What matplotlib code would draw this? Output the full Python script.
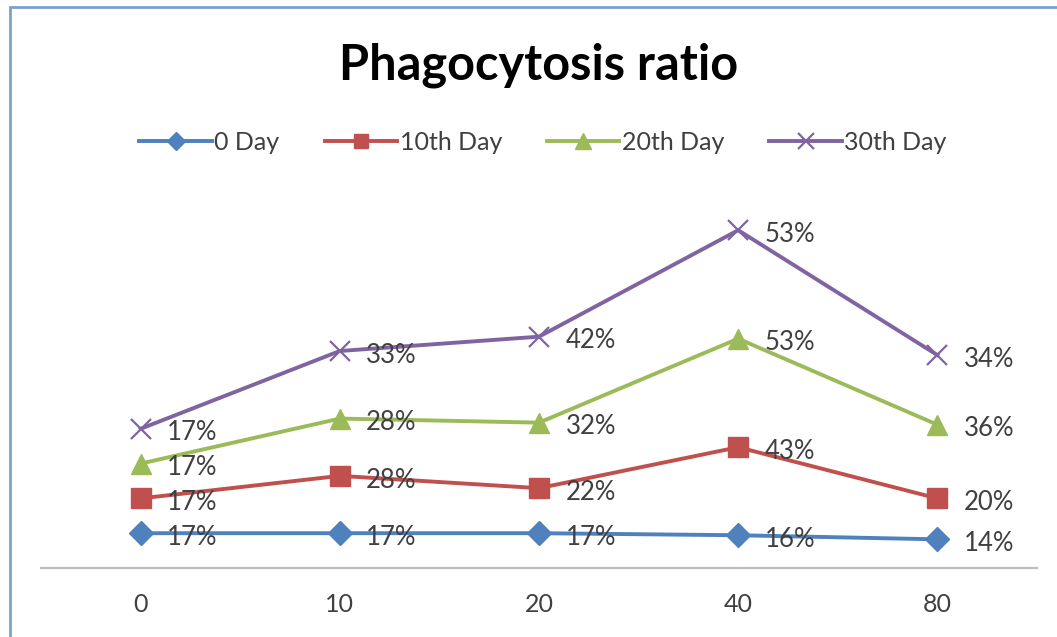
import matplotlib.pyplot as plt
import numpy as np
from matplotlib.patches import Rectangle

plt.rcParams['font.family'] = ['Lato', 'DejaVu Sans']

# categories (x axis) and the four series (stacked line chart, labels show own values)
days = ['0', '10', '20', '40', '80']
series_names = ['0 Day', '10th Day', '20th Day', '30th Day']
day0 = [17, 17, 17, 16, 14]
day10 = [17, 28, 22, 43, 20]
day20 = [17, 28, 32, 53, 36]
day30 = [17, 33, 42, 53, 34]

colors = ['#4F81BD', '#C0504D', '#9BBB59', '#8064A2']
markers = ['D', 's', '^', 'x']
msizes = [12, 14, 15, 15]

W, H = 1057, 637
fig = plt.figure(figsize=(W / 100, H / 100), dpi=100)

# chart frame
fig.patches.append(Rectangle((10 / W, -0.05), 1.1, 1 - 7 / H + 0.05,
                             transform=fig.transFigure, fill=False,
                             edgecolor='#7BA0CD', lw=2))

ax = fig.add_axes([41 / W, 1 - 568 / H, (1037 - 41) / W, (568 - 199.5) / H])
x = np.arange(len(days))
values = [day0, day10, day20, day30]
stacked = np.cumsum(np.array(values), axis=0)

handles = []
for i, name in enumerate(series_names):
    mew = 1.6 if markers[i] == 'x' else 1
    h, = ax.plot(x, stacked[i], color=colors[i], lw=2.8, marker=markers[i],
                 markersize=msizes[i], markeredgewidth=mew, label=name, zorder=3)
    handles.append(h)
    for xi, yi, v in zip(x, stacked[i], values[i]):
        ax.annotate(f'{v}%', (xi, yi), xytext=(19, -3), textcoords='offset points',
                    ha='left', va='center', fontsize=18.5, color='#404040', zorder=4)

ax.set_xlim(-0.5, len(days) - 0.5)
ax.set_ylim(0, 180)
ax.set_xticks(x)
ax.set_xticklabels(days, fontsize=18, color='#404040')
ax.tick_params(axis='x', length=0, pad=18)
ax.set_yticks([])
for s in ['top', 'right', 'left']:
    ax.spines[s].set_visible(False)
ax.spines['bottom'].set_color('#BFBFBF')
ax.spines['bottom'].set_linewidth(1.6)
ax.patch.set_alpha(0)

fig.text(539 / W, 1 - 65 / H, 'Phagocytosis ratio', ha='center', va='center',
         fontsize=35, fontweight='bold', color='black')

fig.legend(handles=handles, loc='center', bbox_to_anchor=(543 / W, 1 - 142 / H),
           ncol=4, frameon=False, fontsize=18, handlelength=2.9, handletextpad=0.1,
           columnspacing=1.8, markerscale=0.75, labelcolor='#404040')

fig.savefig('out.png', dpi=100)
